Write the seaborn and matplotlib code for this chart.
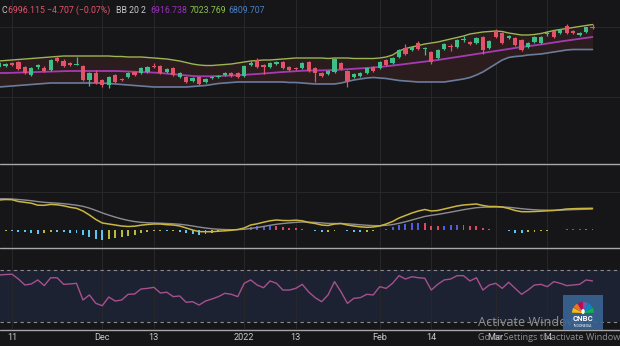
import numpy as np
import pandas as pd
import matplotlib
matplotlib.use("Agg")
import matplotlib.pyplot as plt
import seaborn as sns
from matplotlib.lines import Line2D
from matplotlib.patches import Wedge, Ellipse

# ---- daily OHLC (index points), 9 Nov 2021 - 23 Mar 2022 ----
opens = [6659.9, 6668.4, 6694.1, 6702.7, 6659.9, 6591.4, 6659.9, 6651.3, 6634.2, 6736.9,
         6711.2, 6694.1, 6680.4, 6668.4, 6548.6, 6608.5, 6548.6, 6505.8, 6591.4, 6557.2,
         6574.3, 6617.1, 6608.5, 6617.1, 6668.4, 6668.4, 6617.1, 6651.3, 6574.3, 6574.3,
         6540.0, 6574.3, 6531.5, 6565.7, 6574.3, 6591.4, 6608.5, 6608.5, 6582.8, 6677.0,
         6719.8, 6677.0, 6659.9, 6685.6, 6702.7, 6659.9, 6651.3, 6651.3, 6702.7, 6651.3,
         6608.5, 6600.0, 6617.1, 6694.1, 6625.6, 6574.3, 6582.8, 6608.5, 6659.9, 6651.3,
         6719.8, 6694.1, 6745.5, 6822.5, 6805.4, 6865.3, 6814.0, 6788.3, 6736.9, 6814.0,
         6835.4, 6831.1, 6894.4, 6873.9, 6865.3, 6916.7, 6822.5, 6959.5, 6950.9, 6908.1,
         6908.1, 6891.0, 6831.1, 6873.9, 6865.3, 6945.8, 6968.0, 6950.9, 7010.8, 6968.0,
         6933.8, 6959.5, 7004.0]
highs = [6711.2, 6694.1, 6702.7, 6711.2, 6668.4, 6659.9, 6685.6, 6668.4, 6728.4, 6754.0,
         6728.4, 6702.7, 6745.5, 6677.0, 6617.1, 6634.2, 6557.2, 6582.8, 6600.0, 6565.7,
         6617.1, 6625.6, 6659.9, 6668.4, 6694.1, 6677.0, 6651.3, 6659.9, 6617.1, 6582.8,
         6574.3, 6582.8, 6565.7, 6582.8, 6591.4, 6617.1, 6617.1, 6617.1, 6677.0, 6711.2,
         6736.9, 6685.6, 6702.7, 6711.2, 6711.2, 6668.4, 6659.9, 6702.7, 6711.2, 6659.9,
         6617.1, 6634.2, 6736.9, 6702.7, 6634.2, 6608.5, 6617.1, 6659.9, 6668.4, 6711.2,
         6728.4, 6745.5, 6814.0, 6856.8, 6839.6, 6882.4, 6831.1, 6796.8, 6814.0, 6865.3,
         6856.8, 6899.6, 6925.2, 6882.4, 6916.7, 6925.2, 6891.0, 6985.2, 6959.5, 6933.8,
         6916.7, 6899.6, 6873.9, 6925.2, 6925.2, 6968.0, 6976.6, 6985.2, 7028.0, 6976.6,
         6959.5, 7002.3, 7028.0]
lows = [6651.3, 6659.9, 6668.4, 6634.2, 6600.0, 6582.8, 6642.8, 6617.1, 6625.6, 6702.7,
        6659.9, 6668.4, 6672.7, 6540.0, 6497.2, 6514.4, 6488.7, 6480.1, 6522.9, 6540.0,
        6565.7, 6582.8, 6600.0, 6608.5, 6651.3, 6600.0, 6608.5, 6582.8, 6565.7, 6522.9,
        6531.5, 6505.8, 6522.9, 6557.2, 6565.7, 6582.8, 6574.3, 6565.7, 6574.3, 6668.4,
        6651.3, 6600.0, 6651.3, 6677.0, 6642.8, 6625.6, 6634.2, 6642.8, 6617.1, 6531.5,
        6574.3, 6591.4, 6608.5, 6634.2, 6488.7, 6565.7, 6574.3, 6600.0, 6617.1, 6642.8,
        6668.4, 6685.6, 6736.9, 6762.6, 6796.8, 6805.4, 6762.6, 6685.6, 6728.4, 6805.4,
        6796.8, 6822.5, 6873.9, 6848.2, 6856.8, 6771.2, 6814.0, 6908.1, 6856.8, 6899.6,
        6839.6, 6796.8, 6822.5, 6865.3, 6856.8, 6925.2, 6908.1, 6942.4, 6942.4, 6942.4,
        6925.2, 6950.9, 6985.2]
closes = [6694.1, 6685.6, 6677.0, 6642.8, 6608.5, 6651.3, 6677.0, 6625.6, 6719.8, 6711.2,
          6668.4, 6677.0, 6685.6, 6548.6, 6608.5, 6522.9, 6505.8, 6574.3, 6531.5, 6548.6,
          6608.5, 6591.4, 6651.3, 6659.9, 6659.9, 6608.5, 6642.8, 6591.4, 6608.5, 6531.5,
          6565.7, 6514.4, 6557.2, 6574.3, 6582.8, 6608.5, 6582.8, 6574.3, 6668.4, 6694.1,
          6659.9, 6659.9, 6694.1, 6702.7, 6651.3, 6634.2, 6642.8, 6694.1, 6625.6, 6608.5,
          6582.8, 6625.6, 6728.4, 6642.8, 6540.0, 6600.0, 6608.5, 6651.3, 6625.6, 6702.7,
          6677.0, 6736.9, 6805.4, 6771.2, 6831.1, 6814.0, 6822.5, 6702.7, 6805.4, 6856.8,
          6826.8, 6891.0, 6899.6, 6856.8, 6908.1, 6805.4, 6882.4, 6916.7, 6865.3, 6925.2,
          6848.2, 6805.4, 6865.3, 6916.7, 6916.7, 6950.9, 6916.7, 6976.6, 6950.9, 6950.9,
          6950.9, 7000.8, 6996.1]

# ---- Bollinger Bands (20, 2) ----
bb_upper = [6711.2, 6715.5, 6719.8, 6724.1, 6728.4, 6732.6, 6736.9, 6741.2, 6745.5, 6749.8,
            6754.0, 6754.0, 6754.0, 6754.0, 6754.0, 6754.0, 6754.0, 6754.0, 6749.8, 6749.8,
            6745.5, 6745.5, 6745.5, 6741.2, 6736.9, 6732.6, 6728.4, 6719.8, 6711.2, 6698.4,
            6685.6, 6677.0, 6672.7, 6672.7, 6677.0, 6681.3, 6685.6, 6694.1, 6702.7, 6711.2,
            6715.5, 6719.8, 6719.8, 6724.1, 6728.4, 6732.6, 6736.9, 6736.9, 6736.9, 6736.9,
            6736.9, 6732.6, 6736.9, 6736.9, 6736.9, 6732.6, 6732.6, 6732.6, 6732.6, 6736.9,
            6745.5, 6762.6, 6796.8, 6818.2, 6831.1, 6843.9, 6856.8, 6865.3, 6873.9, 6886.7,
            6899.6, 6912.4, 6925.2, 6942.4, 6950.9, 6959.5, 6963.8, 6968.0, 6963.8, 6950.9,
            6942.4, 6933.8, 6933.8, 6938.1, 6946.6, 6959.5, 6972.3, 6980.9, 6989.4, 6998.0,
            7006.6, 7015.1, 7023.8]
bb_mid = [6608.5, 6608.5, 6610.2, 6611.9, 6613.6, 6615.4, 6617.1, 6618.8, 6620.5, 6622.2,
          6623.9, 6625.6, 6625.6, 6625.6, 6625.6, 6625.6, 6625.6, 6625.6, 6625.6, 6623.9,
          6621.4, 6618.8, 6617.1, 6614.5, 6611.9, 6608.5, 6603.4, 6598.3, 6593.1, 6588.0,
          6582.8, 6580.3, 6580.3, 6581.1, 6582.8, 6584.5, 6587.1, 6589.7, 6593.1, 6596.5,
          6600.0, 6604.2, 6608.5, 6612.8, 6617.1, 6620.5, 6623.9, 6627.4, 6629.1, 6629.9,
          6630.8, 6632.5, 6634.2, 6637.6, 6641.0, 6644.5, 6647.9, 6651.3, 6655.6, 6659.9,
          6665.9, 6671.9, 6678.7, 6685.6, 6692.4, 6699.3, 6706.1, 6713.0, 6719.8, 6728.4,
          6736.9, 6745.5, 6754.0, 6762.6, 6771.2, 6779.7, 6788.3, 6796.8, 6805.4, 6814.0,
          6822.5, 6831.1, 6837.9, 6844.8, 6852.5, 6861.0, 6869.6, 6878.2, 6885.9, 6893.6,
          6901.3, 6909.0, 6916.7]
bb_lower = [6488.7, 6492.9, 6497.2, 6501.5, 6505.8, 6510.1, 6514.4, 6518.6, 6522.9, 6522.9,
            6522.9, 6522.9, 6522.9, 6522.9, 6522.9, 6522.9, 6522.9, 6518.6, 6514.4, 6510.1,
            6505.8, 6501.5, 6497.2, 6492.9, 6488.7, 6488.7, 6488.7, 6488.7, 6488.7, 6488.7,
            6492.9, 6497.2, 6501.5, 6510.1, 6518.6, 6522.9, 6527.2, 6531.5, 6531.5, 6531.5,
            6531.5, 6531.5, 6531.5, 6531.5, 6531.5, 6527.2, 6527.2, 6522.9, 6518.6, 6514.4,
            6514.4, 6514.4, 6514.4, 6522.9, 6535.8, 6548.6, 6557.2, 6565.7, 6570.0, 6565.7,
            6561.4, 6552.9, 6544.3, 6540.0, 6535.8, 6531.5, 6531.5, 6531.5, 6531.5, 6531.5,
            6540.0, 6548.6, 6557.2, 6570.0, 6591.4, 6617.1, 6651.3, 6685.6, 6719.8, 6741.2,
            6749.8, 6754.0, 6762.6, 6766.9, 6771.2, 6779.7, 6788.3, 6796.8, 6805.4, 6809.7,
            6809.7, 6809.7, 6809.7]

# ---- MACD (12, 26, 9) ----
macd = [60, 61, 60.6, 57, 55.4, 53.6, 49.6, 49.4, 51.2, 50.4,
        48.4, 45.4, 43.4, 38, 30, 21, 14, 12, 10, 8,
        7, 7.6, 9.6, 11, 12, 12, 10.6, 10, 8, 4,
        0, -3.2, -3.4, -3.4, -2.4, -1.6, -0.6, 1, 4, 10,
        12.4, 15.6, 18.4, 20, 19, 18.8, 19.6, 18.4, 15, 13,
        10, 9, 12, 13, 10, 8, 6.4, 5.4, 6, 8,
        12, 17, 24, 29, 34, 38, 41, 38, 39, 42,
        45, 48, 50, 51, 52, 49, 47, 47, 46, 43,
        39, 36.6, 36.6, 37, 37.6, 38.4, 39, 40.4, 42, 42.6,
        43, 43.2, 43.4]
signal = [62.6, 62.3, 62.0, 61.0, 59.9, 58.6, 56.8, 55.3, 54.5, 53.7,
          52.6, 51.2, 49.6, 47.3, 43.8, 39.2, 34.2, 29.8, 25.8, 22.2,
          19.2, 16.9, 15.4, 14.5, 14.0, 13.6, 13.0, 12.4, 11.5, 10.0,
          8.0, 5.8, 4.0, 2.5, 1.5, 0.9, 0.6, 0.7, 1.4, 3.1,
          5.0, 7.1, 9.4, 11.5, 13.0, 14.2, 15.3, 15.9, 15.7, 15.2,
          14.2, 13.2, 13.0, 13.0, 12.4, 11.5, 10.5, 9.5, 8.8, 8.6,
          9.3, 10.8, 13.4, 16.5, 20.0, 23.6, 27.1, 29.3, 31.2, 33.4,
          35.7, 38.2, 40.6, 42.7, 44.6, 45.5, 45.8, 46.0, 46.0, 45.4,
          44.1, 42.6, 41.4, 40.5, 39.9, 39.6, 39.5, 39.7, 40.2, 40.7,
          41.1, 41.5, 41.9]

# ---- RSI (14) ----
rsi = [66.1, 66.5, 66.7, 63.0, 58.4, 59.2, 62.3, 57.9, 64.0, 64.0,
       58.9, 59.2, 59.7, 46.8, 50.7, 44.2, 42.4, 49.1, 46.0, 46.8,
       51.2, 51.4, 55.3, 55.8, 56.6, 52.2, 52.8, 49.4, 49.9, 45.0,
       45.5, 42.9, 46.0, 47.6, 49.4, 52.0, 51.2, 49.4, 59.7, 62.3,
       58.4, 56.3, 61.5, 59.7, 54.5, 54.5, 55.8, 58.9, 53.0, 48.6,
       45.5, 50.7, 61.0, 53.2, 44.2, 48.1, 48.6, 51.2, 50.7, 57.1,
       55.8, 59.7, 65.6, 63.0, 64.8, 64.0, 63.6, 54.5, 58.9, 62.3,
       63.0, 65.6, 65.6, 61.5, 64.0, 54.5, 58.4, 59.7, 55.8, 60.5,
       55.8, 51.2, 54.5, 58.4, 58.9, 57.1, 61.0, 59.7, 57.9, 58.4,
       58.9, 62.3, 61.5]

# bar index of each date label on the time axis
tick_pos = [2, 16, 24, 38, 46, 59, 67, 77, 85]
tick_labels = ["11", "Dec", "13", "2022", "13", "Feb", "14", "Mar", "14"]

# ---- styling ----
BG = "#161618"
GRID = "#27272a"
UP, DOWN = "#3fbf88", "#e2536a"
C_UPPER, C_MID, C_LOWER = "#9db552", "#a53bb4", "#6a7b9c"
C_MACD, C_SIGNAL, C_RSI = "#cbb641", "#8c8c94", "#a6508f"
TXT = "#c9c9c9"

sns.set_theme(style="dark")
plt.rcParams["font.family"] = ["Roboto", "DejaVu Sans"]

df = pd.DataFrame({
    "idx": np.arange(len(closes)), "open": opens, "high": highs, "low": lows,
    "close": closes, "upper": bb_upper, "mid": bb_mid, "lower": bb_lower,
    "macd": macd, "signal": signal, "rsi": rsi,
})
df["hist"] = df["macd"] - df["signal"]

W, H = 620, 346
fig = plt.figure(figsize=(W / 100, H / 100), dpi=100, facecolor=BG)


def pane(top, bottom):
    ax = fig.add_axes([0, 1 - bottom / H, 1, (bottom - top) / H])
    ax.set_facecolor(BG)
    for s in ax.spines.values():
        s.set_visible(False)
    ax.set_xlim(0.14, 96.26)
    ax.set_xticks(tick_pos)
    ax.set_axisbelow(True)
    ax.grid(axis="x", color=GRID, lw=0.8)
    ax.tick_params(length=0, labelleft=False, labelbottom=False)
    return ax


ax_p = pane(0, 163)
ax_m = pane(164, 247)
ax_r = pane(249, 329)

# price pane: candles inside Bollinger Bands
ax_p.set_ylim(5838, 7233.4)
ax_p.set_yticks([6400, 7000])
ax_p.grid(axis="y", color=GRID, lw=0.8)
ax_p.fill_between(df["idx"], df["lower"], df["upper"], color="#2b1d1e", lw=0, zorder=1)
sns.lineplot(data=df, x="idx", y="upper", ax=ax_p, color=C_UPPER, lw=1.0, zorder=2)
sns.lineplot(data=df, x="idx", y="lower", ax=ax_p, color=C_LOWER, lw=1.2, zorder=2)
sns.lineplot(data=df, x="idx", y="mid", ax=ax_p, color=C_MID, lw=1.3, zorder=2)
cols = np.where(df["close"] >= df["open"], UP, DOWN)
ax_p.vlines(df["idx"], df["low"], df["high"], colors=cols, lw=0.9, zorder=3)
body_lo = np.minimum(df["open"], df["close"])
body_h = np.maximum((df["close"] - df["open"]).abs(), 5.0)
ax_p.bar(df["idx"], body_h, bottom=body_lo, width=0.66, color=cols, lw=0, zorder=4)

# MACD pane
ax_m.set_ylim(-34, 132)
ax_m.set_yticks([76])
ax_m.grid(axis="y", color=GRID, lw=0.8)
prev = df["hist"].shift(1).fillna(df["hist"].iloc[0])
hcols = []
for h, p in zip(df["hist"], prev):
    if h >= 0:
        hcols.append("#4f5ee0" if h >= p else "#e0485f")
    else:
        hcols.append("#5cc6ef" if h < p else "#b9ba3c")
ax_m.bar(df["idx"], df["hist"], width=0.3, color=hcols, lw=0, zorder=2)
sns.lineplot(data=df, x="idx", y="signal", ax=ax_m, color=C_SIGNAL, lw=1.0, zorder=3)
sns.lineplot(data=df, x="idx", y="macd", ax=ax_m, color=C_MACD, lw=1.1, zorder=4)

# RSI pane
ax_r.set_ylim(24.4, 86.2)
ax_r.axhspan(30, 70, color="#1c2231", lw=0, zorder=0.5)
for lvl in (70, 30):
    ax_r.axhline(lvl, color="#8a8a8a", lw=0.8, ls=(0, (3, 3)), zorder=1)
sns.lineplot(data=df, x="idx", y="rsi", ax=ax_r, color=C_RSI, lw=1.0, zorder=3)
ax_r.set_xticklabels(tick_labels)
ax_r.tick_params(axis="x", labelbottom=True, colors=TXT, labelsize=6.6, pad=3.2)

for ax in (ax_p, ax_m, ax_r):
    ax.set_xlabel("")
    ax.set_ylabel("")

# pane separators
for ypx in (163.5, 248, 329.5):
    fig.add_artist(Line2D([0, 1], [1 - ypx / H] * 2, transform=fig.transFigure,
                          color="#a8a8a8", lw=1.0))

# legend line
yh = 1 - 10.7 / H
hdr = [(2, "C", TXT), (8.3, "6996.115 −4.707 (−0.07%)", "#e2536a"),
       (116, "BB 20 2", TXT), (150, "6916.738", "#9b2fc0"),
       (189.5, "7023.769", "#8fc04f"), (228, "6809.707", "#4b7fc4")]
for xpx, s, c in hdr:
    fig.text(xpx / W, yh, s, color=c, fontsize=6.3, va="center", ha="left")

# desktop activation notice
fig.text(478 / W, 1 - 322 / H, "Activate Windows", color="#8f8f8f", fontsize=9.2,
         va="center", ha="left", family=["Open Sans", "DejaVu Sans"], zorder=3)
fig.text(478 / W, 1 - 338 / H, "Go to Settings to activate Windows.", color="#8f8f8f",
         fontsize=6.6, va="center", ha="left", family=["Open Sans", "DejaVu Sans"], zorder=3)

# broadcaster badge, drawn over the notice
bx0, by0, bw, bh = 563, 295, 40, 35
ax_b = fig.add_axes([bx0 / W, 1 - (by0 + bh) / H, bw / W, bh / H], zorder=10)
ax_b.set_xlim(0, bw)
ax_b.set_ylim(0, bh)
ax_b.set_facecolor("#3a6494")
ax_b.patch.set_alpha(0.9)
for s in ax_b.spines.values():
    s.set_visible(False)
ax_b.set_xticks([])
ax_b.set_yticks([])
feathers = ["#0db14b", "#0089d0", "#6460aa", "#cc004c", "#f37021", "#fcb711"]
for i, fc in enumerate(feathers):
    a0 = i * 30
    ax_b.add_patch(Wedge((20, 17), 11, a0 + 1.5, a0 + 28.5, color=fc, lw=0))
ax_b.add_patch(Ellipse((20, 18.5), 3.5, 5, color="white", lw=0))
ax_b.text(20, 11.2, "CNBC", color="white", fontsize=5.6, fontweight="bold",
          ha="center", va="center")
ax_b.text(20, 4.2, "INDONESIA", color="white", fontsize=2.6, ha="center", va="center")

fig.savefig("out.png", dpi=100, facecolor=BG)
